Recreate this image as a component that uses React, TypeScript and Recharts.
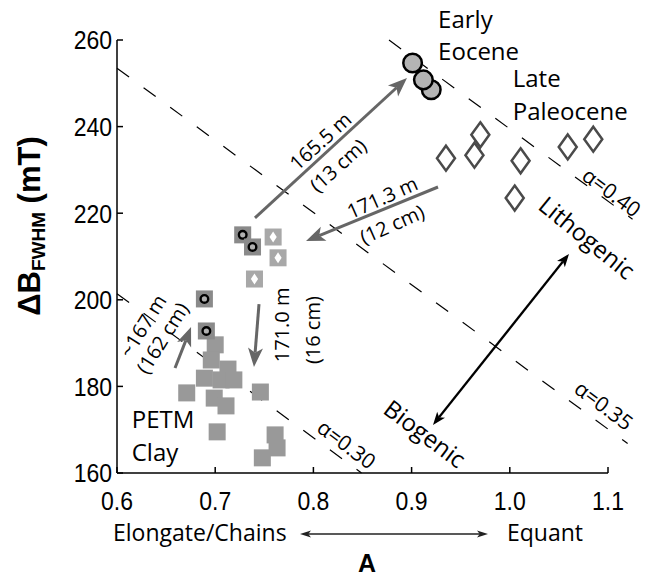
import React from 'react';
import {
  ScatterChart,
  Scatter,
  XAxis,
  YAxis,
  ReferenceLine,
  ReferenceDot,
  Customized,
} from 'recharts';

// axis ticks
const xTicks = [0.6, 0.7, 0.8, 0.9, 1.0, 1.1];
const yTicks = [160, 180, 200, 220, 240, 260];

// PETM clay samples (A, ΔB_FWHM)
const petmClay = [
  { a: 0.7, b: 189.6 },
  { a: 0.696, b: 186.1 },
  { a: 0.713, b: 184.0 },
  { a: 0.689, b: 181.9 },
  { a: 0.706, b: 181.5 },
  { a: 0.719, b: 181.5 },
  { a: 0.699, b: 177.3 },
  { a: 0.711, b: 175.5 },
  { a: 0.671, b: 178.5 },
  { a: 0.702, b: 169.5 },
  { a: 0.746, b: 178.7 },
  { a: 0.761, b: 168.8 },
  { a: 0.763, b: 165.8 },
  { a: 0.748, b: 163.5 },
];

// transition samples, square with circle
const transCircle = [
  { a: 0.728, b: 215.0 },
  { a: 0.738, b: 212.2 },
  { a: 0.689, b: 200.2 },
  { a: 0.691, b: 192.8 },
];

// transition samples, square with diamond
const transDiamond = [
  { a: 0.759, b: 214.5 },
  { a: 0.764, b: 209.7 },
  { a: 0.74, b: 204.8 },
];

const latePaleocene = [
  { a: 0.935, b: 232.7 },
  { a: 0.964, b: 233.4 },
  { a: 0.97, b: 238.1 },
  { a: 1.011, b: 232.1 },
  { a: 1.005, b: 223.5 },
  { a: 1.059, b: 235.3 },
  { a: 1.085, b: 237.1 },
];

const earlyEocene = [
  { a: 0.92, b: 248.5 },
  { a: 0.912, b: 250.8 },
  { a: 0.901, b: 254.7 },
];

// constant-alpha guide lines
const alphaLines = [
  { label: 'α=0.30', from: [0.6, 201.4], to: [0.849, 160] },
  { label: 'α=0.35', from: [0.6, 253.5], to: [1.12, 166.8] },
  { label: 'α=0.40', from: [0.877, 260], to: [1.125, 218.6] },
];

// depth arrows
const grayArrows = [
  { from: [0.7405, 218.9], to: [0.8953, 251.2] },
  { from: [0.9269, 226.05], to: [0.7925, 213.6] },
  { from: [0.7446, 199.0], to: [0.7395, 184.5] },
  { from: [0.6591, 184.25], to: [0.6754, 193.7] },
];
const bioLithoArrow = { from: [0.9218, 171.1], to: [1.0603, 210.6] };

// text notes: position in data units, rotation in degrees
const notes = [
  { a: 0.927, b: 262.8, text: 'Early', angle: 0, size: 24, anchor: 'start' },
  { a: 0.927, b: 255.4, text: 'Eocene', angle: 0, size: 24, anchor: 'start' },
  { a: 1.003, b: 249.1, text: 'Late', angle: 0, size: 24, anchor: 'start' },
  { a: 1.003, b: 241.5, text: 'Paleocene', angle: 0, size: 24, anchor: 'start' },
  { a: 0.615, b: 170.4, text: 'PETM', angle: 0, size: 24, anchor: 'start' },
  { a: 0.615, b: 162.8, text: 'Clay', angle: 0, size: 24, anchor: 'start' },
  { a: 1.079, b: 214.5, text: 'Lithogenic', angle: 39, size: 24, anchor: 'middle' },
  { a: 0.914, b: 169.2, text: 'Biogenic', angle: 37, size: 24, anchor: 'middle' },
  { a: 1.104, b: 224.9, text: 'α=0.40', angle: 37, size: 21, anchor: 'middle' },
  { a: 1.096, b: 175.7, text: 'α=0.35', angle: 37, size: 21, anchor: 'middle' },
  { a: 0.834, b: 166.7, text: 'α=0.30', angle: 37, size: 21, anchor: 'middle' },
  { a: 0.807, b: 236.7, text: '165.5 m', angle: -42, size: 20, anchor: 'middle' },
  { a: 0.825, b: 231.1, text: '(13 cm)', angle: -42, size: 20, anchor: 'middle' },
  { a: 0.87, b: 223.7, text: '171.3 m', angle: -24, size: 20, anchor: 'middle' },
  { a: 0.88, b: 217.5, text: '(12 cm)', angle: -24, size: 20, anchor: 'middle' },
  { a: 0.768, b: 194.2, text: '171.0 m', angle: -90, size: 20, anchor: 'middle' },
  { a: 0.799, b: 193.0, text: '(16 cm)', angle: -90, size: 20, anchor: 'middle' },
  { a: 0.626, b: 194.0, text: '~167 m', angle: -58, size: 20, anchor: 'middle' },
  { a: 0.646, b: 191.2, text: '(162 cm)', angle: -58, size: 20, anchor: 'middle' },
];

const W = 650;
const H = 576;
const SANS = '"Open Sans", sans-serif';
const ARIAL = '"Liberation Sans", Arial, sans-serif';

const square = (fill: string) => (p: any) => (
  <rect x={p.cx - 8.5} y={p.cy - 8.5} width={17} height={17} fill={fill} />
);

const squareCircle = (p: any) => (
  <g>
    <rect x={p.cx - 8.5} y={p.cy - 8.5} width={17} height={17} fill="#8a8a8a" />
    <circle cx={p.cx} cy={p.cy} r={3.8} fill="#b0b0b0" stroke="#000" strokeWidth={2.4} />
  </g>
);

const squareDiamond = (p: any) => (
  <g>
    <rect x={p.cx - 8.5} y={p.cy - 8.5} width={17} height={17} fill="#a8a8a8" />
    <path
      d={`M${p.cx},${p.cy - 5.5} L${p.cx + 3.6},${p.cy} L${p.cx},${p.cy + 5.5} L${p.cx - 3.6},${p.cy} Z`}
      fill="#fff"
    />
  </g>
);

const diamond = (p: any) => (
  <path
    d={`M${p.cx},${p.cy - 12.5} L${p.cx + 9},${p.cy} L${p.cx},${p.cy + 12.5} L${p.cx - 9},${p.cy} Z`}
    fill="#fff"
    stroke="#4a4a4a"
    strokeWidth={2.5}
  />
);

const circle = (p: any) => (
  <circle cx={p.cx} cy={p.cy} r={9.3} fill="#b4b4b4" stroke="#000" strokeWidth={2.5} />
);

function head(x: number, y: number, ux: number, uy: number, len: number, wid: number, fill: string) {
  const nx = -uy;
  const ny = ux;
  const bx = x - ux * len;
  const by = y - uy * len;
  const pts = [
    [x, y],
    [bx + nx * wid / 2, by + ny * wid / 2],
    [x - ux * len * 0.75, y - uy * len * 0.75],
    [bx - nx * wid / 2, by - ny * wid / 2],
  ];
  return <polygon points={pts.map((q) => q.join(',')).join(' ')} fill={fill} />;
}

// arrow drawn along a reference segment
const arrowShape =
  (color: string, width: number, len: number, wid: number, both = false) =>
  (p: any) => {
    const x1 = Number(p.x1);
    const y1 = Number(p.y1);
    const x2 = Number(p.x2);
    const y2 = Number(p.y2);
    const d = Math.hypot(x2 - x1, y2 - y1) || 1;
    const ux = (x2 - x1) / d;
    const uy = (y2 - y1) / d;
    const sx = both ? x1 + ux * len * 0.75 : x1;
    const sy = both ? y1 + uy * len * 0.75 : y1;
    const ex = x2 - ux * len * 0.75;
    const ey = y2 - uy * len * 0.75;
    return (
      <g>
        <line x1={sx} y1={sy} x2={ex} y2={ey} stroke={color} strokeWidth={width} />
        {head(x2, y2, ux, uy, len, wid, color)}
        {both && head(x1, y1, -ux, -uy, len, wid, color)}
      </g>
    );
  };

const noteShape = (n: (typeof notes)[number]) => (p: any) => (
  <text
    transform={`translate(${p.cx},${p.cy}) rotate(${n.angle})`}
    textAnchor={n.anchor}
    dominantBaseline={n.anchor === 'middle' ? 'central' : 'auto'}
    fontFamily={SANS}
    fontSize={n.size}
    fill="#000"
  >
    {n.text}
  </text>
);

// tick labels are a little taller than they are wide
const YTick = (p: any) => (
  <g transform={`translate(${p.x},${p.y}) scale(1,1.14)`}>
    <text textAnchor="end" dy="0.36em" fontFamily={ARIAL} fontSize={23} fill="#000">
      {p.payload.value}
    </text>
  </g>
);

const XTick = (p: any) => (
  <g transform={`translate(${p.x},${p.y}) scale(1,1.14)`}>
    <text textAnchor="middle" dy="0.71em" fontFamily={ARIAL} fontSize={23} fill="#000">
      {Number(p.payload.value).toFixed(1)}
    </text>
  </g>
);

// axis titles and the shape scale beneath the x axis
const AxisTitles = () => (
  <g>
    <text
      transform="translate(40,226) rotate(-90)"
      textAnchor="middle"
      fontFamily={ARIAL}
      fontWeight="bold"
      fontSize={31}
      fill="#000"
    >
      ΔB
      <tspan fontSize={19} dy={5}>
        FWHM
      </tspan>
      <tspan dy={-5}> (mT)</tspan>
    </text>
    <text x={367} y={572} textAnchor="middle" fontFamily={ARIAL} fontWeight="bold" fontSize={25} fill="#000">
      A
    </text>
    <text x={113} y={541} fontFamily={SANS} fontSize={23} fill="#000">
      Elongate/Chains
    </text>
    <text x={507} y={541} fontFamily={SANS} fontSize={23} fill="#000">
      Equant
    </text>
    <line x1={306} y1={534} x2={482} y2={534} stroke="#222" strokeWidth={1.4} />
    {head(300, 534, -1, 0, 11, 7, '#222')}
    {head(488, 534, 1, 0, 11, 7, '#222')}
  </g>
);

export default function App() {
  return (
    <div style={{ position: 'absolute', left: 0, top: 0, width: W, height: H, background: '#fff' }}>
      <ScatterChart width={W} height={H} margin={{ top: 40, right: 42, bottom: 73, left: 0 }}>
        <XAxis
          type="number"
          dataKey="a"
          domain={[0.6, 1.1]}
          ticks={xTicks}
          interval={0}
          height={30}
          tickSize={-6}
          tickMargin={24}
          axisLine={{ stroke: '#000', strokeWidth: 1.5 }}
          tickLine={{ stroke: '#000', strokeWidth: 1.5 }}
          tick={XTick}
        />
        <YAxis
          type="number"
          dataKey="b"
          domain={[160, 260]}
          ticks={yTicks}
          interval={0}
          width={117}
          tickSize={-6}
          tickMargin={11}
          axisLine={{ stroke: '#000', strokeWidth: 1.5 }}
          tickLine={{ stroke: '#000', strokeWidth: 1.5 }}
          tick={YTick}
        />

        {alphaLines.map((l) => (
          <ReferenceLine
            key={l.label}
            segment={[
              { x: l.from[0], y: l.from[1] },
              { x: l.to[0], y: l.to[1] },
            ]}
            ifOverflow="visible"
            stroke="#000"
            strokeWidth={1.2}
            strokeDasharray="15 18"
          />
        ))}

        <Scatter data={petmClay} shape={square('#999999')} isAnimationActive={false} />
        <Scatter data={transCircle} shape={squareCircle} isAnimationActive={false} />
        <Scatter data={transDiamond} shape={squareDiamond} isAnimationActive={false} />
        <Scatter data={latePaleocene} shape={diamond} isAnimationActive={false} />
        <Scatter data={earlyEocene} shape={circle} isAnimationActive={false} />

        {grayArrows.map((r, i) => (
          <ReferenceLine
            key={`arrow-${i}`}
            segment={[
              { x: r.from[0], y: r.from[1] },
              { x: r.to[0], y: r.to[1] },
            ]}
            ifOverflow="visible"
            shape={arrowShape('#666666', 3, 19, 15)}
          />
        ))}
        <ReferenceLine
          segment={[
            { x: bioLithoArrow.from[0], y: bioLithoArrow.from[1] },
            { x: bioLithoArrow.to[0], y: bioLithoArrow.to[1] },
          ]}
          ifOverflow="visible"
          shape={arrowShape('#000', 2.2, 13, 10, true)}
        />

        {notes.map((n) => (
          <ReferenceDot key={n.text} x={n.a} y={n.b} r={0} ifOverflow="visible" shape={noteShape(n)} />
        ))}

        <Customized component={AxisTitles} />
      </ScatterChart>
    </div>
  );
}
